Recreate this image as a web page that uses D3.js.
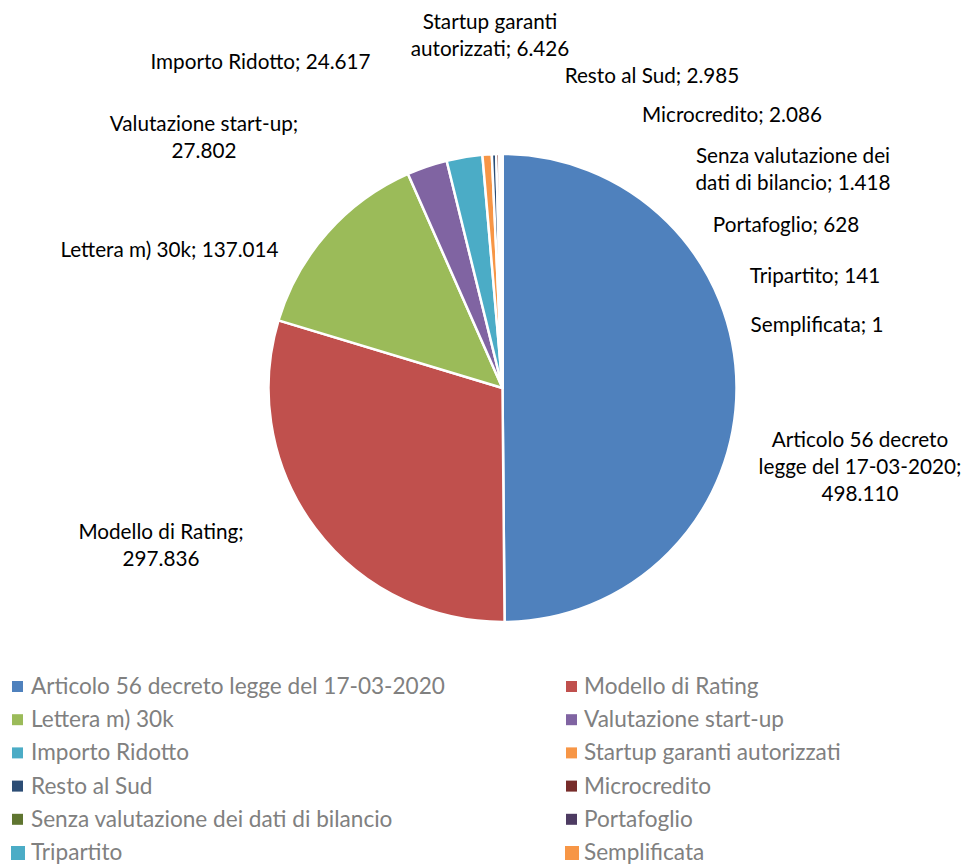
<!DOCTYPE html>
<html>
<head>
<meta charset="utf-8">
<script src="https://cdn.jsdelivr.net/npm/d3@7"></script>
<style>
  body { margin: 0; background: #fff; }
  svg { display: block; }
  .lbl { font-family: Lato, "Open Sans", sans-serif; font-size: 20.7px; fill: #000; }
  .leg { font-family: Lato, "Open Sans", sans-serif; font-size: 22.6px; fill: #808080; }
</style>
</head>
<body>
<div id="chart"></div>
<script>
// categories and values
var categories = [
    "Articolo 56 decreto legge del 17-03-2020",
    "Modello di Rating",
    "Lettera m) 30k",
    "Valutazione start-up",
    "Importo Ridotto",
    "Startup garanti autorizzati",
    "Resto al Sud",
    "Microcredito",
    "Senza valutazione dei dati di bilancio",
    "Portafoglio",
    "Tripartito",
    "Semplificata"
];
var values = [498110, 297836, 137014, 27802, 24617, 6426, 2985, 2086, 1418, 628, 141, 1];

// how the data labels wrap
var labelLines = [
    ["Articolo 56 decreto", "legge del 17-03-2020;", "498.110"],
    ["Modello di Rating;", "297.836"],
    ["Lettera m) 30k; 137.014"],
    ["Valutazione start-up;", "27.802"],
    ["Importo Ridotto; 24.617"],
    ["Startup garanti", "autorizzati; 6.426"],
    ["Resto al Sud; 2.985"],
    ["Microcredito; 2.086"],
    ["Senza valutazione dei", "dati di bilancio; 1.418"],
    ["Portafoglio; 628"],
    ["Tripartito; 141"],
    ["Semplificata; 1"]
];

var colors = ["#4F81BD", "#C0504D", "#9BBB59", "#8064A2", "#4BACC6", "#F79646",
              "#2C4D75", "#772C2A", "#5F7530", "#4D3B62", "#4BACC6", "#F79646"];

var width = 962, height = 864;
var cx = 502.5, cy = 388, radius = 234;

var svg = d3.select("#chart").append("svg")
    .attr("width", width)
    .attr("height", height);

var data = categories.map(function(c, i){
    return {name: c, value: values[i], lines: labelLines[i], color: colors[i]};
});

var pie = d3.pie()
    .sort(null)
    .value(function(d){ return d.value; });

var arc = d3.arc()
    .innerRadius(0)
    .outerRadius(radius);

var g = svg.append("g")
    .attr("transform", "translate(" + cx + "," + cy + ")");

var arcs = pie(data);

g.selectAll("path")
    .data(arcs)
    .enter()
    .append("path")
    .attr("d", arc)
    .attr("fill", function(d){ return d.data.color; })
    .attr("stroke", "#fff")
    .attr("stroke-width", 2.5)
    .attr("stroke-linejoin", "round");

// label anchors, relative to the pie centre (Excel "best fit" placement)
var labelOffsets = [
    [357.5, 79], [-341.5, 157.5], [-333, -138], [-298.5, -251], [-242, -326],
    [-12.5, -353], [149.5, -312], [229.5, -273], [290.5, -218.5], [283.5, -163],
    [312.5, -112], [314.5, -63]
];
var lineHeight = 27;

var labels = g.selectAll(".lbl")
    .data(arcs)
    .enter()
    .append("text")
    .attr("class", "lbl")
    .attr("text-anchor", "middle")
    .attr("transform", function(d, i){
        var n = d.data.lines.length;
        var x = labelOffsets[i][0];
        var y = labelOffsets[i][1] - (n - 1) * lineHeight / 2;
        return "translate(" + x + "," + y + ")";
    });

labels.selectAll("tspan")
    .data(function(d){ return d.data.lines; })
    .enter()
    .append("tspan")
    .attr("x", 0)
    .attr("dy", function(d, i){ return i == 0 ? "0.35em" : lineHeight; })
    .text(function(d){ return d; });

// legend: two columns
var legendRow = d3.scaleLinear().domain([0, 5]).range([686, 852]);
var legendCol = [12, 566];

var legend = svg.selectAll(".legItem")
    .data(data)
    .enter()
    .append("g")
    .attr("class", "legItem")
    .attr("transform", function(d, i){
        return "translate(" + legendCol[i % 2] + "," + legendRow(Math.floor(i / 2)) + ")";
    });

legend.append("rect")
    .attr("x", function(d, i){ return i >= 10 ? -1 : 0; })
    .attr("y", function(d, i){ return i >= 10 ? -6 : -5; })
    .attr("width", function(d, i){ return i >= 10 ? 14 : 11; })
    .attr("height", function(d, i){ return i >= 10 ? 14 : 11; })
    .attr("fill", function(d){ return d.color; });

legend.append("text")
    .attr("class", "leg")
    .attr("x", function(d, i){ return i % 2 ? 18 : 19; })
    .attr("dy", "0.35em")
    .text(function(d){ return d.name; });
</script>
</body>
</html>
